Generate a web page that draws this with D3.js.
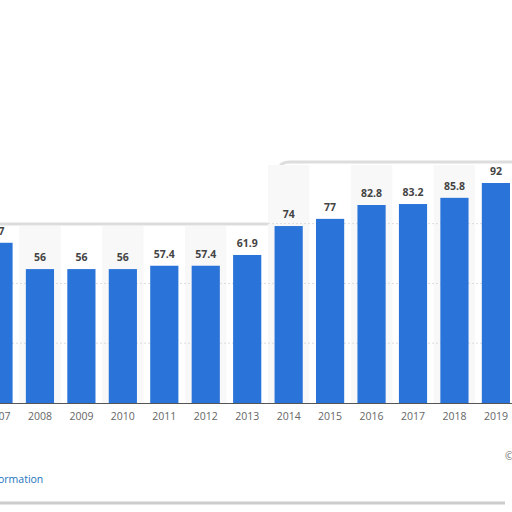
<!DOCTYPE html><html><head><meta charset="utf-8">
<script src="https://cdn.jsdelivr.net/npm/d3@7"></script>
<style>body{margin:0;background:#fff}svg{font-family:"Open Sans",sans-serif}</style></head><body>
<svg width="512" height="512"></svg>
<script>
const years=["2007","2008","2009","2010","2011","2012","2013","2014","2015","2016","2017","2018","2019"];
const values=[67,56,56,56,57.4,57.4,61.9,74,77,82.8,83.2,85.8,92];
const gridTicks=[0,25,50,75];
const svg=d3.select("svg");
const step=41.45;
const x=d3.scaleBand().domain(years).range([-1.5-step/2,-1.5-step/2+step*years.length]).paddingInner(0.32).paddingOuter(0.16);
const y=d3.scaleLinear().domain([0,92]).range([403,183]);
// panel shadow edges
svg.append("path").attr("d","M0,224 L270,224 Q280,224 280,214 L280,168 Q280,162 290,162 L512,162").attr("fill","none").attr("stroke","#ddd").attr("stroke-width",3);
svg.append("path").attr("d","M0,503 L505,503").attr("stroke","#ccc").attr("stroke-width",3);
// alternating stripes
years.forEach((d,i)=>{if(i%2===1){const cx=x(d)+x.bandwidth()/2;svg.append("rect").attr("x",cx-step/2).attr("width",step).attr("y",i<7?226:165).attr("height",(i<7?403-226:403-165)).attr("fill","#f8f8f8");}});
svg.selectAll(".g").data(gridTicks.slice(1)).join("line").attr("x1",0).attr("x2",512).attr("y1",d=>y(d)).attr("y2",d=>y(d)).attr("stroke","#ddd").attr("stroke-dasharray","2,2");
svg.selectAll(".b").data(values).join("rect").attr("x",(d,i)=>x(years[i])).attr("width",x.bandwidth()).attr("y",d=>y(d)).attr("height",d=>403-y(d)).attr("fill","#2a73d9");
svg.selectAll(".v").data(values).join("text").attr("x",(d,i)=>x(years[i])+x.bandwidth()/2).attr("y",d=>y(d)-8).attr("text-anchor","middle").attr("font-size",10.5).attr("font-weight","bold").attr("fill","#444").text(d=>d);
svg.append("line").attr("x1",0).attr("x2",512).attr("y1",403.5).attr("y2",403.5).attr("stroke","#555");
const ax=svg.append("g").attr("transform","translate(0,403)").call(d3.axisBottom(x).tickSize(0).tickPadding(10));
ax.select(".domain").remove();
ax.selectAll("text").attr("font-size",10.5).attr("fill","#666").attr("font-family","Open Sans");
svg.append("text").attr("x",-2).attr("y",483).attr("font-size",10.5).attr("fill","#1e73be").text("ormation");
svg.append("text").attr("x",505).attr("y",460).attr("font-size",10.5).attr("fill","#666").text("©");
</script></body></html>
